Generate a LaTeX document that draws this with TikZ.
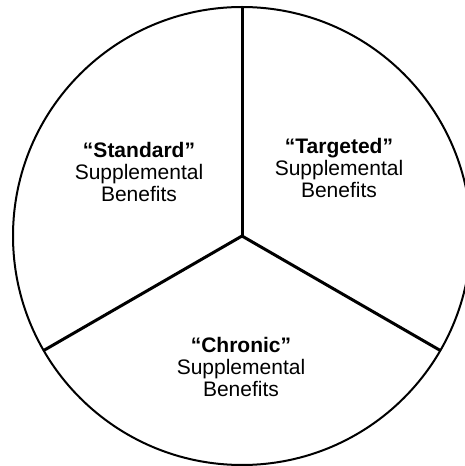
\documentclass[tikz,border=0pt]{standalone}
\usepackage{fontspec}
\setmainfont{Liberation Sans}
\usepackage{tikz}

\begin{document}
\begin{tikzpicture}[x=0.5pt,y=0.5pt,
    spoke/.style={line width=1.5pt},
    label/.style={align=center,inner sep=0,font=\fontsize{10.5}{11}\selectfont}]
        \useasboundingbox (0,0) rectangle (465,466);
        \coordinate (c) at (242,230);
        \draw[line width=1pt] (c) circle (229);
        \foreach \a in {90,210,330}
          \draw[spoke] (c) -- ++(\a:229);
        \node[label] (standard) at (139,294) {\textbf{“Standard”}\\Supplemental\\Benefits};
        \node[label] (targeted) at (339,298) {\textbf{“Targeted”}\\Supplemental\\Benefits};
        \node[label] (chronic) at (241,99) {\textbf{“Chronic”}\\Supplemental\\Benefits};
      \end{tikzpicture}
\end{document}
